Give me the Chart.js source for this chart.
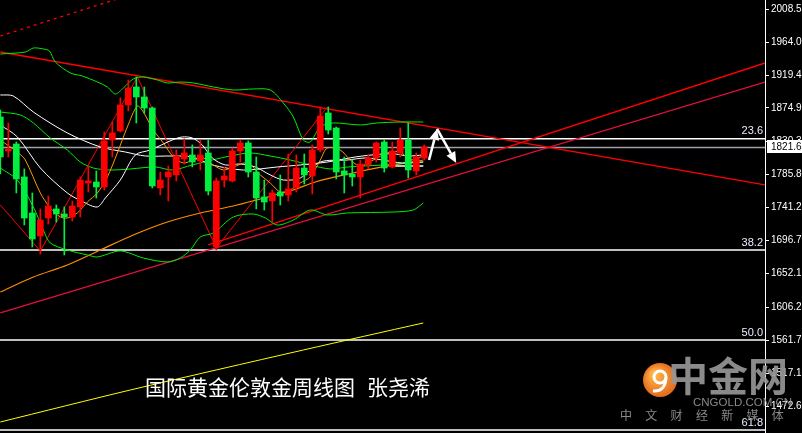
<!DOCTYPE html>
<html>
<head>
<meta charset="utf-8">
<style>
  html, body { margin: 0; padding: 0; background: #000; overflow: hidden; }
  #wrap { width: 802px; height: 433px; }
</style>
<script src="https://cdn.jsdelivr.net/npm/chart.js@4.4.1/dist/chart.umd.min.js"></script>
</head>
<body>
<div id="wrap"><canvas id="goldChart"></canvas></div>
<script>
// weekly candles (price)
const opens = [1862.8,1816.9,1826.3,1781.8,1733.2,1702.1,1726.4,1738.6,1731.8,1727.8,
  1741.3,1773.7,1775.0,1768.3,1831.7,1843.9,1879.0,1903.3,1889.8,1874.9,
  1766.9,1781.8,1784.5,1806.1,1811.5,1803.4,1814.2,1687.3,1777.7,1776.4,
  1816.9,1827.7,1788.5,1754.8,1749.4,1761.5,1757.5,1766.9,1793.9,1783.1,
  1818.2,1868.2,1847.9,1789.9,1785.8,1781.8,1798.0,1807.4,1829.0,1795.3,
  1814.2,1831.7,1789.9,1807.4];
const highs = [1872.2,1854.7,1829.0,1792.6,1760.2,1738.6,1756.1,1744.0,1741.3,1749.4,
  1781.8,1796.6,1789.9,1842.5,1856.0,1888.4,1912.7,1916.8,1903.3,1876.3,
  1788.5,1796.6,1818.2,1833.1,1825.0,1831.7,1831.7,1780.4,1795.3,1820.9,
  1831.7,1830.4,1808.8,1777.7,1764.2,1784.5,1812.8,1811.5,1812.8,1825.0,
  1876.3,1876.3,1849.3,1808.8,1804.7,1804.7,1811.5,1829.0,1831.7,1829.0,
  1847.9,1854.7,1814.2,1825.0];
const lows = [1785.8,1808.8,1760.2,1717.0,1687.3,1677.8,1718.3,1721.0,1676.5,1722.4,
  1727.8,1761.5,1753.4,1764.2,1808.8,1842.5,1870.9,1854.7,1868.2,1766.9,
  1757.5,1749.4,1776.4,1799.3,1795.3,1791.2,1757.5,1683.2,1768.3,1775.0,
  1802.0,1781.8,1738.6,1737.2,1721.0,1744.0,1749.4,1761.5,1772.3,1758.8,
  1815.5,1839.8,1779.1,1760.2,1769.6,1753.4,1792.6,1802.0,1788.5,1793.9,
  1808.8,1780.4,1784.5,1804.7];
const closes = [1808.8,1819.6,1779.1,1726.4,1698.1,1723.7,1742.6,1731.8,1727.8,1742.6,
  1777.7,1776.4,1768.3,1830.4,1841.2,1879.0,1901.9,1889.8,1874.9,1769.6,
  1777.7,1788.5,1810.1,1814.2,1802.0,1811.5,1762.9,1776.4,1783.1,1816.9,
  1827.7,1788.5,1753.4,1748.0,1760.2,1756.1,1765.6,1793.9,1784.5,1818.2,
  1864.1,1845.2,1788.5,1784.5,1781.8,1799.3,1807.4,1827.7,1793.9,1816.9,
  1831.7,1791.2,1808.8,1822.3];

// indicator lines: [bar index, price]
const maFast = [[0,1831.7],[2.25,1814.2],[3.13,1804.7],[5,1760.2],[6.25,1739.9],[7.5,1727.8],[8.38,1726.4],
  [9.63,1733.2],[10.88,1748.0],[12.13,1760.2],[13.38,1781.8],[14.63,1814.2],[15.88,1849.3],[17.13,1877.6],
  [17.88,1869.5],[19.13,1845.2],[20.38,1827.7],[21.63,1808.8],[22.88,1800.7],[24.13,1804.7],[25.38,1807.4],
  [26.63,1798.0],[27.88,1791.2],[29.13,1795.3],[30.88,1800.7],[32.5,1784.5],[33.75,1773.7],[35,1761.5],
  [36.25,1764.2],[37.5,1773.7],[38.75,1781.8],[40,1804.7],[40.88,1820.9],[42.5,1818.2],[43.75,1804.7],
  [45,1796.6],[46.63,1804.7],[48.38,1814.2],[50,1815.5],[51.25,1804.7],[52.88,1810.1]];
const maWhiteFast = [[0,1852.0],[2.13,1835.8],[5,1793.9],[8.38,1760.2],[10.38,1748.0],[12.13,1741.3],
  [13.13,1753.4],[15,1777.7],[16.88,1811.5],[18.75,1818.2],[21.5,1831.7],[22.75,1835.8],[24,1834.4],
  [25.25,1825.0],[26.5,1807.4],[28.13,1798.0],[30,1799.3],[31.88,1795.3],[33.75,1784.5],[35.38,1777.7],
  [37.5,1780.4],[40,1802.0],[43.38,1804.7],[45.63,1807.4],[47.75,1804.7],[50.25,1800.7],[52.88,1802.0]];
const maWhiteSlow = [[0,1892.5],[1.63,1891.1],[4.13,1869.5],[8.38,1841.2],[12.5,1822.3],[15.63,1815.5],
  [18.13,1810.1],[21.5,1810.1],[24,1808.8],[26.5,1798.0],[30.38,1791.2],[34.63,1795.3],[37.5,1798.0],
  [40.88,1802.0],[44.38,1808.8],[47.75,1812.8],[49.38,1812.8],[51,1810.1],[52.88,1811.5]];
const whiteFlat = [[48.75,1796.6],[52.88,1796.6]];
const bandUpper = [[0,1947.8],[3.13,1950.5],[4.13,1955.9],[5.38,1954.6],[6.13,1951.9],[6.88,1937.0],
  [8.75,1922.2],[10.25,1918.1],[12.13,1910.0],[13.38,1903.3],[14.38,1893.8],[15.38,1901.9],[16.63,1914.1],
  [17.88,1916.8],[19.63,1912.7],[20.88,1908.7],[22.5,1910.0],[24.13,1908.7],[26.63,1903.3],[29.13,1899.2],
  [31.63,1900.6],[33.75,1899.2],[35.38,1881.7],[36.63,1862.8],[37.88,1831.7],[38.75,1829.0],[40,1849.3],
  [41.63,1854.7],[45,1852.0],[47.13,1854.7],[50,1856.0],[52.88,1856.0]];
const bandMiddle = [[0,1869.5],[2.5,1865.5],[4.13,1854.7],[6.25,1834.4],[8.38,1818.2],[10,1802.0],
  [11.63,1793.9],[13.75,1791.2],[16.25,1792.6],[19.38,1795.3],[21.5,1791.2],[24,1798.0],[26.5,1804.7],
  [28.75,1810.1],[31.25,1814.2],[33.75,1810.1],[36.25,1804.7],[38.75,1797.9],[41.25,1792.6],[43.5,1795.3],
  [47.75,1797.9],[52.88,1802.0]];
const bandLower = [[0,1793.9],[2.13,1777.7],[4.13,1741.3],[5.38,1710.2],[6.25,1692.7],[8.38,1683.2],
  [10.88,1676.5],[12.13,1673.8],[15,1681.9],[17.88,1672.4],[20.88,1667.0],[22.5,1672.4],[23.75,1683.2],
  [25,1700.8],[26.63,1706.2],[29.13,1727.8],[31.63,1731.8],[33.13,1726.4],[34.63,1716.9],[36.63,1723.7],
  [38.75,1737.2],[40.88,1730.5],[43.38,1733.2],[49.13,1734.5],[51.63,1737.2],[52.88,1746.7]];
const maSlow = [[0,1626.5],[4.13,1646.8],[8.38,1663.0],[12.5,1683.2],[16.63,1703.5],[20.88,1721.0],
  [25,1733.2],[29.13,1742.6],[32.5,1752.1],[36.63,1764.2],[39.38,1775.0],[43.5,1785.8],[47.75,1795.3],
  [52.88,1804.7]];
const maYellow = [[0,1451.0],[16.25,1494.2],[37.88,1548.2],[52.88,1584.7]];

// hand-drawn lines
const trendDown = [[0,1950.5],[95.6,1771.0]];
const trendUpA = [[26,1690.0],[95.6,1935.7]];
const trendUpB = [[0,1598.2],[95.6,1910.0]];
const channelTop = [[0,1972.1],[15,2023.4]];
const waveLine = [[0,1744.0],[5,1681.9],[17.13,1916.8],[27,1685.9],[40.88,1876.3]];
const arrowUp = [[53.6,1804.7],[54.6,1846.6]];
const arrowDown = [[54.6,1846.6],[57,1800.7]];

// fibonacci levels and current price
const fibLevels = [1833.5, 1683.2, 1561.7, 1440.2];
const fibNames = ['23.6', '38.2', '50.0', '61.8'];
const lastPrice = 1821.66;

// axis
const tickValues = [2008.55,1964.00,1919.45,1874.90,1830.35,1785.80,1741.25,1696.70,1652.15,1606.25,1561.70,1517.15,1472.60];
const tickLabels = ['2008.55','1964.00','1919.45','1874.90','1830.35','1785.80','1741.25','1696.70','1652.15','1606.25','1561.70','1517.15','1472.60'];

const title = '国际黄金伦敦金周线图';
const author = '张尧浠';

const X_MIN = -0.04, X_MAX = 95.6;

function pts(arr) { return arr.map(p => ({x: p[0], y: p[1]})); }
function line(arr, color, width, extra) {
  return Object.assign({
    type: 'line', data: pts(arr), borderColor: color, borderWidth: width,
    pointRadius: 0, fill: false, tension: 0.3
  }, extra || {});
}

const up = closes.map((c, i) => c >= opens[i]);
const candleColors = up.map(u => u ? '#ff0000' : '#00f040');

const datasets = [
  {
    type: 'bar', data: opens.map((o, i) => ({x: i, y: [o, closes[i]]})),
    backgroundColor: candleColors, barThickness: 6, minBarLength: 1, grouped: false
  },
  {
    type: 'bar', data: lows.map((l, i) => ({x: i, y: [l, highs[i]]})),
    backgroundColor: candleColors, barThickness: 1, grouped: false
  },
  line(maFast, '#ff9900', 1),
  line(maWhiteFast, '#ffffff', 1),
  line(maWhiteSlow, '#ffffff', 1),
  line(whiteFlat, '#ffffff', 1.5, {tension: 0}),
  line(bandUpper, '#00ee00', 1),
  line(bandMiddle, '#00ee00', 1),
  line(bandLower, '#00ee00', 1),
  line(maSlow, '#ff8c00', 1.2),
  line(maYellow, '#ffff00', 1),
  line(waveLine, '#ff0000', 1, {tension: 0}),
  line(trendDown, '#ff0000', 1.3, {tension: 0}),
  line(trendUpA, '#ff0000', 1.3, {tension: 0}),
  line(trendUpB, '#e0103c', 1.3, {tension: 0}),
  line(channelTop, '#ff0000', 1.3, {tension: 0, borderDash: [3, 4]}),
];
fibLevels.forEach(v => datasets.push(line([[X_MIN, v], [X_MAX, v]], '#ffffff', 1.5, {tension: 0})));
datasets.push(line([[X_MIN, lastPrice], [X_MAX, lastPrice]], '#a0a0aa', 1.5, {tension: 0}));

const decorPlugin = {
  id: 'decor',
  beforeDraw(chart) {
    const ctx = chart.ctx;
    ctx.save();
    ctx.fillStyle = '#000';
    ctx.fillRect(0, 0, chart.width, chart.height);
    ctx.restore();
  },
  afterDatasetsDraw(chart) {
    const ctx = chart.ctx, xs = chart.scales.x, ys = chart.scales.y;
    const ca = chart.chartArea;
    ctx.save();
    // arrows
    ctx.strokeStyle = '#ffffff';
    ctx.fillStyle = '#ffffff';
    ctx.lineWidth = 2.5;
    [arrowUp, arrowDown].forEach(a => {
      const x0 = xs.getPixelForValue(a[0][0]), y0 = ys.getPixelForValue(a[0][1]);
      const x1 = xs.getPixelForValue(a[1][0]), y1 = ys.getPixelForValue(a[1][1]);
      const ang = Math.atan2(y1 - y0, x1 - x0);
      const hl = 11, hw = 5;
      const bx = x1 - hl * Math.cos(ang), by = y1 - hl * Math.sin(ang);
      ctx.beginPath();
      ctx.moveTo(x0, y0);
      ctx.lineTo(bx, by);
      ctx.stroke();
      ctx.beginPath();
      ctx.moveTo(x1, y1);
      ctx.lineTo(bx + hw * Math.sin(ang), by - hw * Math.cos(ang));
      ctx.lineTo(bx - hw * Math.sin(ang), by + hw * Math.cos(ang));
      ctx.closePath();
      ctx.fill();
    });
    // fib labels
    ctx.font = '11px "Liberation Sans", Arial, sans-serif';
    ctx.fillStyle = '#e8eeff';
    ctx.textAlign = 'right';
    ctx.textBaseline = 'bottom';
    fibLevels.forEach((v, i) => {
      ctx.fillText(fibNames[i], ca.right - 2, ys.getPixelForValue(v) - 2);
    });
    // title
    ctx.font = '21px "Noto Sans CJK SC", sans-serif';
    ctx.fillStyle = '#ffffff';
    ctx.textAlign = 'left';
    ctx.textBaseline = 'middle';
    ctx.fillText(title, 145, 387);
    ctx.fillText(author, 367, 387);
    ctx.restore();
  },
  afterDraw(chart) {
    const ctx = chart.ctx, ys = chart.scales.y, ca = chart.chartArea;
    ctx.save();
    // current price box
    const py = ys.getPixelForValue(lastPrice);
    ctx.fillStyle = '#ffffff';
    ctx.fillRect(ca.right + 2, Math.round(py) - 7, 40, 13);
    ctx.fillStyle = '#000000';
    ctx.font = '10px "Liberation Sans", Arial, sans-serif';
    ctx.textAlign = 'left';
    ctx.textBaseline = 'middle';
    ctx.fillText(lastPrice.toFixed(2), ca.right + 6, Math.round(py));
    // watermark
    const grad = ctx.createRadialGradient(654, 374, 3, 660, 380, 18);
    grad.addColorStop(0, '#ffb347');
    grad.addColorStop(1, '#e2661a');
    ctx.fillStyle = grad;
    ctx.beginPath();
    ctx.arc(660, 380, 17, 0, Math.PI * 2);
    ctx.fill();
    ctx.strokeStyle = '#ffffff';
    ctx.lineWidth = 3;
    ctx.beginPath();
    ctx.arc(660, 377, 6, 0, Math.PI * 2);
    ctx.stroke();
    ctx.beginPath();
    ctx.moveTo(666, 378);
    ctx.quadraticCurveTo(665, 392, 653, 391);
    ctx.stroke();
    ctx.fillStyle = 'rgba(150,150,150,0.92)';
    ctx.font = 'bold 40px "Noto Sans CJK SC", sans-serif';
    ctx.textBaseline = 'middle';
    ctx.fillText('中金网', 668, 376);
    ctx.font = '11.5px "Liberation Sans", Arial, sans-serif';
    ctx.fillText('CNGOLD.COM.CN', 693, 403);
    ctx.font = '12px "Noto Sans CJK SC", sans-serif';
    ctx.textAlign = 'center';
    '中文财经新媒体'.split('').forEach((ch, i) => ctx.fillText(ch, 626 + i * 25.3, 415));
    ctx.restore();
  }
};

new Chart(document.getElementById('goldChart'), {
  type: 'bar',
  data: { datasets: datasets },
  options: {
    responsive: true,
    maintainAspectRatio: false,
    animation: false,
    layout: { padding: 0 },
    plugins: { legend: { display: false }, tooltip: { enabled: false } },
    scales: {
      x: { type: 'linear', min: X_MIN, max: X_MAX, offset: false, display: false },
      y: {
        position: 'right', min: 1436.15, max: 2020.7,
        afterFit(scale) {
          scale.width = 37;
          scale.paddingTop = 0;
          scale.paddingBottom = 0;
        },
        afterBuildTicks(scale) { scale.ticks = tickValues.map(v => ({value: v})); },
        border: { display: true, color: '#ffffff', width: 1 },
        grid: { drawOnChartArea: false, color: '#ffffff', tickLength: 4 },
        ticks: {
          color: '#ffffff', padding: 2, autoSkip: false,
          font: { family: '"Liberation Sans", Arial, sans-serif', size: 10 },
          callback: (v, i) => tickLabels[i]
        }
      }
    }
  },
  plugins: [decorPlugin]
});
</script>
</body>
</html>
